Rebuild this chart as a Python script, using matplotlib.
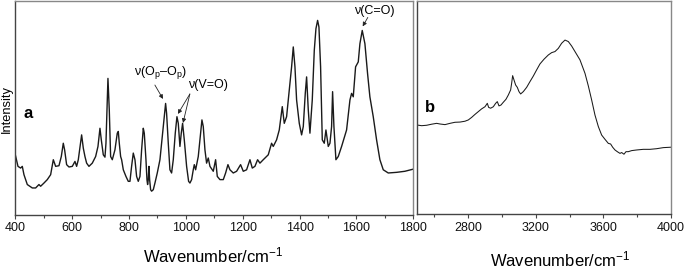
import matplotlib
matplotlib.use("Agg")
import matplotlib.pyplot as plt
from matplotlib.ticker import MultipleLocator, FixedLocator

plt.rcParams['font.family'] = ['Liberation Sans', 'DejaVu Sans']
plt.rcParams['mathtext.fontset'] = 'custom'
plt.rcParams['mathtext.rm'] = 'Liberation Sans'
plt.rcParams['mathtext.it'] = 'Liberation Sans:italic'
plt.rcParams['mathtext.bf'] = 'Liberation Sans:bold'

# Panel a: spectrum 400-1800 cm-1 (arbitrary intensity units)
wn_a = [400, 409.4, 418.8, 424.6, 430.5, 442.2, 459.8, 471.5, 483.2, 489.1, 500.8, 512.5,
        524.3, 533.7, 541.9, 553.6, 561.8, 568.8, 573.5, 580.5, 588.8, 600.5, 609.9, 615.7,
        621.6, 633.3, 639.2, 645.0, 650.9, 659.1, 670.8, 682.6, 690.8, 697.8, 702.5, 709.5,
        715.4, 718.9, 725.9, 730.6, 735.3, 741.2, 750.5, 758.7, 762.3, 765.8, 770.5, 774.0,
        779.9, 789.2, 797.4, 803.3, 809.1, 815.0, 820.9, 826.7, 832.6, 838.5, 844.3, 850.2,
        853.7, 859.6, 863.1, 865.4, 867.8, 870.1, 872.5, 876.0, 879.5, 885.4, 891.2, 899.4,
        908.8, 920.5, 928.7, 932.2, 938.1, 943.9, 949.8, 955.7, 962.7, 968.6, 973.3, 979.1,
        983.8, 988.5, 994.4, 1002.6, 1009.6, 1014.3, 1020.2, 1026.0, 1029.6, 1034.3, 1043.6,
        1051.8, 1056.5, 1061.2, 1067.1, 1072.9, 1078.8, 1084.7, 1096.4, 1104.6, 1110.5,
        1119.8, 1131.6, 1139.8, 1148.0, 1155.0, 1166.7, 1178.5, 1192.5, 1201.9, 1213.6,
        1225.4, 1233.6, 1242.9, 1252.3, 1260.5, 1272.2, 1289.8, 1301.5, 1307.4, 1319.1,
        1328.5, 1339.1, 1346.1, 1354.3, 1360.2, 1366.1, 1371.9, 1377.8, 1383.7, 1389.5,
        1398.9, 1407.1, 1413.0, 1420.0, 1424.7, 1430.6, 1436.4, 1444.6, 1451.7, 1457.5,
        1463.4, 1468.1, 1473.9, 1479.8, 1486.8, 1492.7, 1500.9, 1506.8, 1512.6, 1516.1,
        1520.8, 1527.8, 1536.0, 1547.8, 1565.3, 1577.1, 1582.9, 1588.8, 1597.0, 1606.4,
        1612.2, 1620.4, 1629.8, 1639.1, 1647.3, 1659.1, 1670.8, 1682.5, 1694.3, 1711.9,
        1741.2, 1770.5, 1800.0]
int_a = [27.9, 22.5, 21.7, 22.5, 18.6, 14.0, 12.4, 12.4, 14.0, 13.2, 14.7, 16.3,
         18.6, 25.6, 22.5, 22.8, 27.1, 33.3, 30.2, 23.3, 22.2, 22.5, 24.8, 22.5,
         25.6, 37.2, 31.0, 27.1, 24.0, 22.5, 24.0, 27.1, 31.8, 40.3, 34.9, 27.9,
         26.8, 33.3, 63.6, 48.8, 27.1, 25.6, 30.2, 38.0, 38.8, 33.3, 27.1, 25.6,
         20.9, 17.8, 15.5, 15.5, 22.5, 28.7, 25.6, 17.8, 15.5, 17.8, 30.2, 40.3,
         38.0, 25.6, 16.3, 14.0, 16.3, 22.5, 16.3, 11.6, 10.9, 11.6, 14.7, 19.4,
         25.6, 41.1, 51.9, 47.3, 33.3, 20.9, 19.4, 25.6, 38.0, 45.7, 42.6, 31.8,
         38.0, 42.6, 34.9, 22.5, 15.5, 14.7, 16.3, 20.9, 23.3, 20.9, 27.1,
         38.0, 44.2, 41.1, 30.2, 24.0, 26.4, 22.5, 20.2, 25.6, 17.8,
         16.3, 16.3, 19.4, 23.3, 20.9, 19.4, 20.2, 23.3, 20.2, 20.9,
         25.6, 21.7, 22.5, 25.6, 24.0, 25.6, 27.9, 33.3, 31.8, 34.9,
         39.5, 50.4, 42.6, 45.7, 53.5, 61.2, 69.0, 78.3, 69.0, 53.5,
         42.6, 37.2, 41.1, 56.6, 64.3, 48.8, 38.0, 53.5, 76.7, 86.8,
         90.7, 87.6, 69.0, 34.9, 33.3, 39.5, 31.8, 33.3, 41.1, 57.4,
         41.1, 25.6, 27.1, 31.8, 39.5, 53.5, 56.6, 55.0, 69.0, 71.3,
         79.8, 86.0, 79.8, 65.9, 55.0, 45.7, 34.9, 25.6, 20.9, 19.4,
         19.7, 20.2, 21.2]

# Panel b: spectrum 2500-4000 cm-1
wn_b = [2500, 2525.6, 2555.2, 2584.8, 2614.3, 2634.0, 2663.6, 2693.2, 2722.7, 2752.3,
        2781.9, 2801.6, 2821.3, 2841.0, 2860.7, 2880.4, 2900.1, 2913.9, 2921.8, 2933.6,
        2949.4, 2963.2, 2973.0, 2982.9, 2994.7, 3008.5, 3024.3, 3038.1, 3051.9, 3057.8,
        3063.7, 3071.6, 3081.4, 3091.3, 3101.2, 3111.0, 3126.8, 3146.5, 3166.2, 3185.9,
        3205.6, 3225.3, 3249.0, 3274.6, 3294.3, 3314.0, 3333.7, 3353.4, 3373.2, 3392.9,
        3412.6, 3432.3, 3461.8, 3491.4, 3511.1, 3530.8, 3550.5, 3570.3, 3590.0, 3609.7,
        3629.4, 3643.2, 3655.0, 3668.8, 3682.6, 3698.4, 3708.2, 3722.0, 3733.8, 3747.6,
        3767.3, 3796.9, 3836.3, 3875.8, 3915.2, 3954.6, 4000]
int_b = [41.9, 41.6, 41.8, 42.3, 42.7, 42.4, 42.1, 42.7, 43.2, 43.3,
         43.7, 44.3, 45.5, 46.9, 48.2, 49.5, 50.5, 52.1, 50.2, 49.8,
         50.5, 52.1, 52.9, 50.9, 51.3, 52.6, 54.0, 56.0, 58.4, 61.5,
         65.1, 63.1, 60.7, 59.6, 57.6, 56.5, 57.6, 59.6, 62.3, 64.9,
         67.8, 70.6, 72.8, 74.8, 75.9, 76.4, 77.9, 80.3, 81.8, 81.1,
         79.0, 76.4, 72.5, 66.2, 60.3, 53.7, 46.6, 41.2, 37.2, 35.2,
         33.3, 33.0, 31.5, 30.2, 29.4, 28.6, 29.0, 28.2, 29.4, 29.4,
         29.9, 30.2, 30.5, 30.5, 30.8, 31.3, 31.5]

ticks_a = [400, 600, 800, 1000, 1200, 1400, 1600, 1800]
ticks_b = [2800, 3200, 3600, 4000]
minor_b = [2600, 3000, 3400, 3800]

W, H = 685, 268
fig = plt.figure(figsize=(W / 100, H / 100), dpi=100)
ax_a = fig.add_axes([15.3 / W, 1 - 214.5 / H, 398 / W, 214 / H])
ax_b = fig.add_axes([417.3 / W, 1 - 214.3 / H, 253.7 / W, 213 / H])

ax_a.plot(wn_a, int_a, color='#1a1a1a', lw=1.0)
ax_b.plot(wn_b, int_b, color='#1a1a1a', lw=0.75)

ax_a.set_xlim(400, 1800)
ax_b.set_xlim(2500, 4000)
for ax in (ax_a, ax_b):
    ax.set_ylim(0, 100)
    ax.set_yticks([])
    ax.spines['left'].set_color('#444444')
    ax.spines['bottom'].set_color('#444444')
    ax.spines['top'].set_color('#888888')
    ax.spines['right'].set_color('#888888')
    for s in ax.spines.values():
        s.set_linewidth(1.0)
    ax.tick_params(axis='x', which='major', direction='out', length=3, width=0.8,
                   labelsize=9, pad=2.5, color='#444444', labelcolor='#111111')
    ax.tick_params(axis='x', which='minor', direction='out', length=1.8, width=0.8,
                   color='#444444')

ax_a.xaxis.set_major_locator(FixedLocator(ticks_a))
ax_a.xaxis.set_minor_locator(MultipleLocator(100))
ax_b.xaxis.set_major_locator(FixedLocator(ticks_b))
ax_b.xaxis.set_minor_locator(FixedLocator(minor_b))

# axis labels
fig.text(213 / W, 1 - 262 / H, 'Wavenumber/cm$^{-1}$', ha='center', va='baseline', fontsize=12)
fig.text(560 / W, 1 - 266.5 / H, 'Wavenumber/cm$^{-1}$', ha='center', va='baseline', fontsize=12)
fig.text(7 / W, 1 - 109 / H, 'Intensity', rotation=90, ha='center', va='center', fontsize=9.3)

# panel letters
fig.text(28 / W, 1 - 114 / H, 'a', ha='center', va='center', fontsize=12, fontweight='bold')
fig.text(430 / W, 1 - 107 / H, 'b', ha='center', va='center', fontsize=12, fontweight='bold')

# annotations
arrow = dict(arrowstyle='-|>', lw=0.6, color='#222222', mutation_scale=6, shrinkA=0, shrinkB=0)
ax_a.text(1662, 95, 'ν(C=O)', ha='center', va='center', fontsize=9)
ax_a.annotate('', xy=(1622, 87.9), xytext=(1640, 92.1), arrowprops=arrow)

ax_a.text(909, 66.5, r'ν(O$_{\mathregular{p}}$–O$_{\mathregular{p}}$)', ha='center', va='center', fontsize=9)
ax_a.annotate('', xy=(919.5, 54.0), xytext=(891, 60.5), arrowprops=arrow)

ax_a.text(1078, 60.3, 'ν(V=O)', ha='center', va='center', fontsize=9)
ax_a.annotate('', xy=(972, 47.0), xytext=(1014, 56.3), arrowprops=arrow)
ax_a.annotate('', xy=(990, 42.8), xytext=(1014, 56.3), arrowprops=arrow)

fig.savefig('out.png', dpi=100)
